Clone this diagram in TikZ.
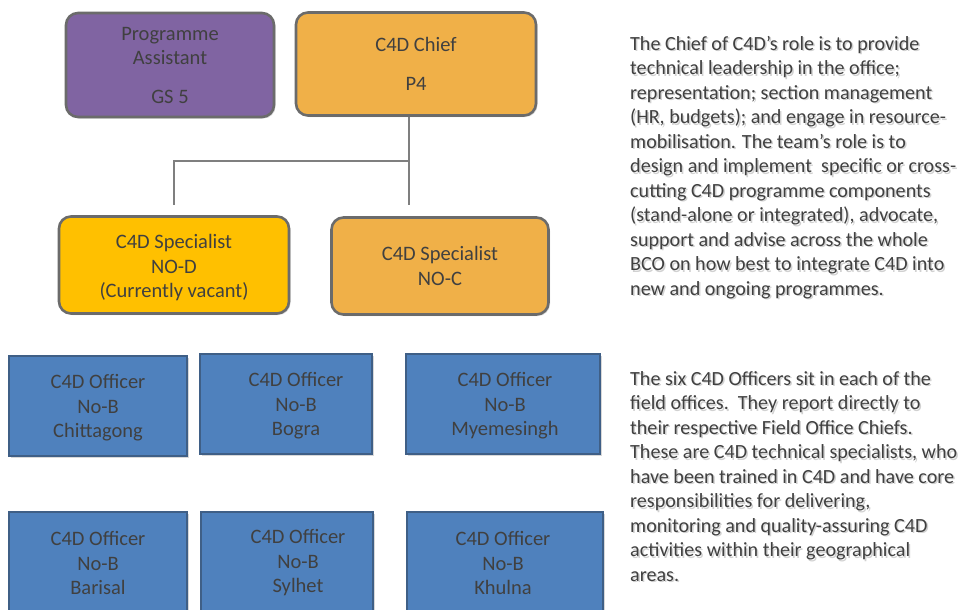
\documentclass[tikz,border=0pt]{standalone}
\usepackage{fontspec}
\setmainfont{Carlito}
\usetikzlibrary{shadows}
\definecolor{txt}{HTML}{404040}
\definecolor{purp}{HTML}{8064A2}
\definecolor{orng}{HTML}{F0B048}
\definecolor{gold}{HTML}{FFC000}
\definecolor{blu}{HTML}{4F81BD}
\definecolor{edge}{HTML}{6B6B6B}
\definecolor{bedge}{HTML}{3F5F86}
\definecolor{conn}{HTML}{7F7F7F}
\newcommand{\paraA}{The Chief of C4D’s role is to provide\\technical leadership in the office;\\representation; section management\\(HR, budgets); and engage in resource-\\mobilisation. The team’s role is to\\design and implement\ \ specific or cross-\\cutting C4D programme components\\(stand-alone or integrated), advocate,\\support and advise across the whole\\BCO on how best to integrate C4D into\\new and ongoing programmes.}
\newcommand{\paraB}{The six C4D Officers sit in each of the\\field offices.\ \ They report directly to\\their respective Field Office Chiefs.\\These are C4D technical specialists, who\\have been trained in C4D and have core\\responsibilities for delivering,\\monitoring and quality-assuring C4D\\activities within their geographical\\areas.}
\begin{document}
\begin{tikzpicture}[x=1pt,y=-1pt,
  every node/.style={font=\fontsize{20.5}{24.5}\selectfont, text=txt, align=center, inner sep=0pt},
  rbox/.style={draw=edge, line width=2.6pt, rounded corners=12pt, drop shadow={opacity=0.3, shadow xshift=1.5pt, shadow yshift=-1.5pt}},
  obox/.style={draw=bedge, line width=2.6pt, fill=blu, drop shadow={opacity=0.3, shadow xshift=1.5pt, shadow yshift=-1.5pt}},
  para/.style={align=left, anchor=north west, font=\fontsize{20.1}{24.5}\selectfont},
  parashadow/.style={para, text=black, opacity=0.18}
]
\useasboundingbox (0,0) rectangle (961,610);
\fill[white] (0,0) rectangle (961,610);
% top row
\node[rbox, fill=purp, minimum width=208pt, minimum height=104pt] (pa) at (170,65) {Programme\\Assistant\\[14pt]GS 5};
\node[rbox, fill=orng, minimum width=240pt, minimum height=103pt] (chief) at (416,64) {C4D Chief\\[14pt]P4};
% specialists
\node[rbox, fill=gold, minimum width=230pt, minimum height=97pt] (spd) at (174,265) {};
\node at (174,268) {C4D Specialist\\NO-D\\(Currently vacant)};
\node[rbox, fill=orng, minimum width=217pt, minimum height=97pt] (spc) at (440,266) {C4D Specialist\\NO-C};
% connectors
\coordinate (j) at (409,161);
\coordinate (d1) at (174,205);
\coordinate (d2) at (409,205);
\draw[conn, line width=1.5pt] (chief.south -| j) -- (j) -- (d2);
\draw[conn, line width=1.5pt] (j) -- (j -| d1) -- (d1);
% officers row 1
\node[obox, minimum width=178pt, minimum height=100pt] (o1) at (98,406) {};
\node at (98,408) {C4D Officer\\No-B\\Chittagong};
\node[obox, minimum width=172pt, minimum height=100pt] (o2) at (286,404) {};
\node at (296,406) {C4D Officer\\No-B\\Bogra};
\node[obox, minimum width=194pt, minimum height=100pt] (o3) at (503,404) {};
\node at (505,406) {C4D Officer\\No-B\\Myemesingh};
% officers row 2
\node[obox, minimum width=178pt, minimum height=106pt] (o4) at (98,565) {};
\node at (98,563) {C4D Officer\\No-B\\Barisal};
\node[obox, minimum width=172pt, minimum height=106pt] (o5) at (287,565) {};
\node at (298,563) {C4D Officer\\No-B\\Sylhet};
\node[obox, minimum width=196pt, minimum height=106pt] (o6) at (505,565) {};
\node at (503,563) {C4D Officer\\No-B\\Khulna};
% paragraphs
\node[parashadow] at (631.5,37.5) {\paraA};
\node[para] (t1) at (630,36) {\paraA};
\node[parashadow] at (631.5,372.5) {\paraB};
\node[para] (t2) at (630,371) {\paraB};
\end{tikzpicture}
\end{document}
